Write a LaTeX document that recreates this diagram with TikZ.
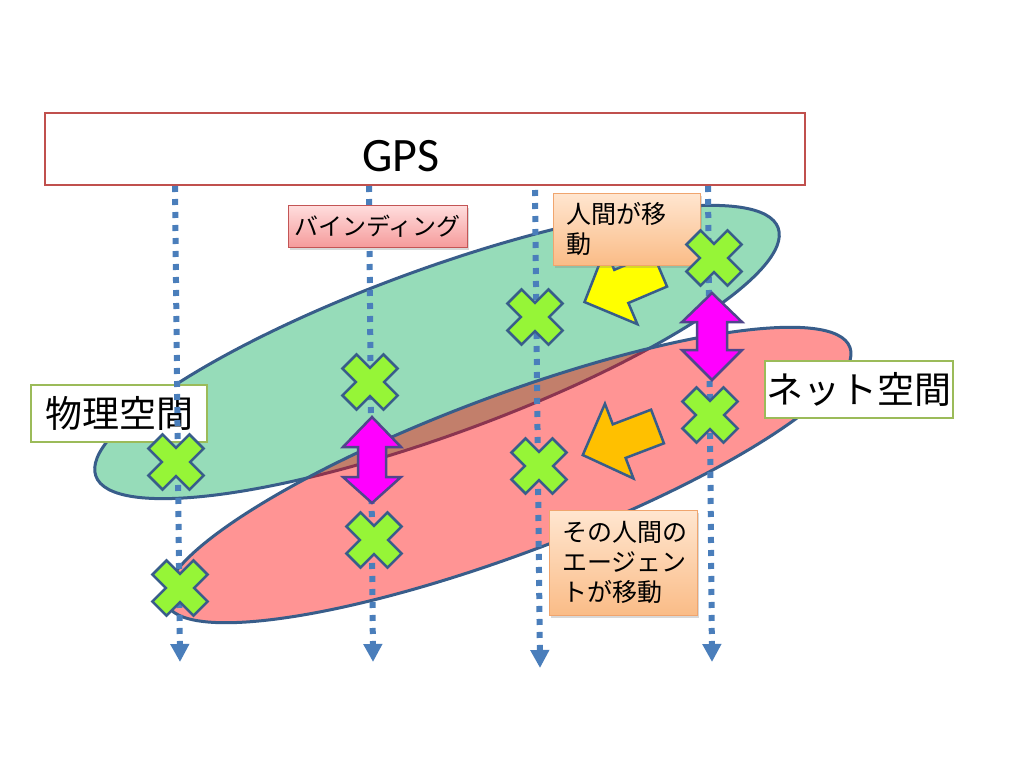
\documentclass[tikz,border=0pt]{standalone}
\usepackage{fontspec}
\setmainfont{Carlito}
\newfontfamily\jp{Noto Sans CJK JP}
\usetikzlibrary{arrows.meta,shadows}
\definecolor{gfill}{RGB}{150,220,185}
\definecolor{eline}{RGB}{56,93,138}
\definecolor{dline}{RGB}{74,126,187}
\definecolor{xfill}{RGB}{150,245,55}
\definecolor{gpsred}{RGB}{192,80,77}
\definecolor{olivebd}{RGB}{155,187,89}
\definecolor{magarrow}{RGB}{255,0,255}
\definecolor{magline}{RGB}{80,70,140}
\definecolor{yel}{RGB}{255,255,0}
\definecolor{orng}{RGB}{255,192,0}
\definecolor{pinktop}{RGB}{255,222,222}
\definecolor{pinkbot}{RGB}{245,155,155}
\definecolor{pinkline}{RGB}{195,85,85}
\definecolor{peachtop}{RGB}{255,230,208}
\definecolor{peachbot}{RGB}{250,188,135}
\definecolor{peachline}{RGB}{240,165,110}
\begin{document}
\begin{tikzpicture}[x=1pt,y=-1pt,
  ell/.style={draw=eline,line width=3pt},
  guide/.style={draw=dline,line width=6pt,dash pattern=on 6pt off 7pt,-{Triangle[length=18pt,width=18pt]}},
  xm/.pic={\draw[draw=eline,fill=xfill,line width=2.5pt,rotate=45]
     (-10,-29)--(10,-29)--(10,-10)--(29,-10)--(29,10)--(10,10)--(10,29)--(-10,29)--(-10,10)--(-29,10)--(-29,-10)--(-10,-10)--cycle;},
  blockarrow/.style={draw=eline,line width=2.5pt,line join=miter},
  dblarrow/.style={draw=magline,fill=magarrow,line width=2.5pt,line join=miter},
  spacebox/.style={draw=olivebd,line width=2.5pt,fill=white,inner sep=0pt,
     minimum height=57pt,font=\jp\fontsize{37}{40}\selectfont},
  bindbox/.style={draw=pinkline,line width=1pt,top color=pinktop,bottom color=pinkbot,
     drop shadow={shadow xshift=2pt,shadow yshift=-3pt,opacity=0.3},
     inner sep=0pt,minimum width=179pt,minimum height=42pt,font=\jp\fontsize{24}{28}\selectfont},
  notebox/.style={draw=peachline,line width=1pt,top color=peachtop,bottom color=peachbot,
     drop shadow={shadow xshift=2pt,shadow yshift=-3pt,opacity=0.3},
     inner xsep=13pt,inner ysep=0pt,align=left,font=\jp\fontsize{25}{30}\selectfont}
]
\useasboundingbox[fill=white] (0,0) rectangle (1024,768);

% GPS bar
\node[draw=gpsred,line width=2.5pt,fill=white,minimum width=760pt,minimum height=72pt,inner sep=0pt] (gpsbox) at (425,149) {};
\node[font=\fontsize{48}{58}\selectfont,inner sep=0pt] (gpstext) at (401,156) {GPS};

% spaces
\draw[ell,fill=gfill,shift={(437,352)},rotate=20] (0,0) ellipse [x radius=363,y radius=83];
\draw[ell,fill=red,fill opacity=0.42,shift={(508,475)},rotate=20.5] (0,0) ellipse [x radius=365,y radius=79];

\node[spacebox,minimum width=176pt] (phys) at (119,413.5) {物理空間};
\node[spacebox,minimum width=188pt] (net) at (859,389.5) {ネット空間};

% vertical guides
\coordinate (t1) at (175,186); \coordinate (b1) at (180,662);
\coordinate (t2) at (369,186); \coordinate (b2) at (373,662);
\coordinate (t3) at (535,190); \coordinate (b3) at (540,668);
\coordinate (t4) at (708,186); \coordinate (b4) at (712,662);
\draw[guide] (t1) -- (b1);
\draw[guide] (t2) -- (b2);
\draw[guide] (t3) -- (b3);
\draw[guide] (t4) -- (b4);

% movement arrows
\draw[blockarrow,fill=yel,shift={(660,270)},rotate=203]
  (0,18)--(42,18)--(42,41)--(82,0)--(42,-41)--(42,-18)--(0,-18)--cycle;
\draw[blockarrow,fill=orng,shift={(657.5,426.5)},rotate=200.9]
  (0,18)--(41,18)--(41,40)--(80,0)--(41,-40)--(41,-18)--(0,-18)--cycle;

% labels
\node[bindbox] (bind) at (377.5,226) {バインディング};
\node[notebox,text width=121pt,minimum height=72pt] (move1) at (626.5,229) {人間が移\\動};
\node[notebox,text width=122pt,minimum height=105pt] (move2) at (623,562.5) {その人間の\\エージェン\\トが移動};

% positions
\pic (x1) at (176,462) {xm};
\pic (x2) at (370,382) {xm};
\pic (x3) at (535,317) {xm};
\pic (x4) at (714,258) {xm};
\pic (x5) at (710,415) {xm};
\pic (x6) at (539,466) {xm};
\pic (x7) at (374,540) {xm};
\pic (x8) at (180,588) {xm};

% binding arrows
\draw[dblarrow] (372,417)--(401,447)--(386,447)--(386,477)--(401,477)--(372,503)--(343,477)--(358,477)--(358,447)--(343,447)--cycle;
\draw[dblarrow] (712,293)--(742,322)--(727,322)--(727,350)--(742,350)--(712,380)--(682,350)--(697,350)--(697,322)--(682,322)--cycle;
\end{tikzpicture}
\end{document}
